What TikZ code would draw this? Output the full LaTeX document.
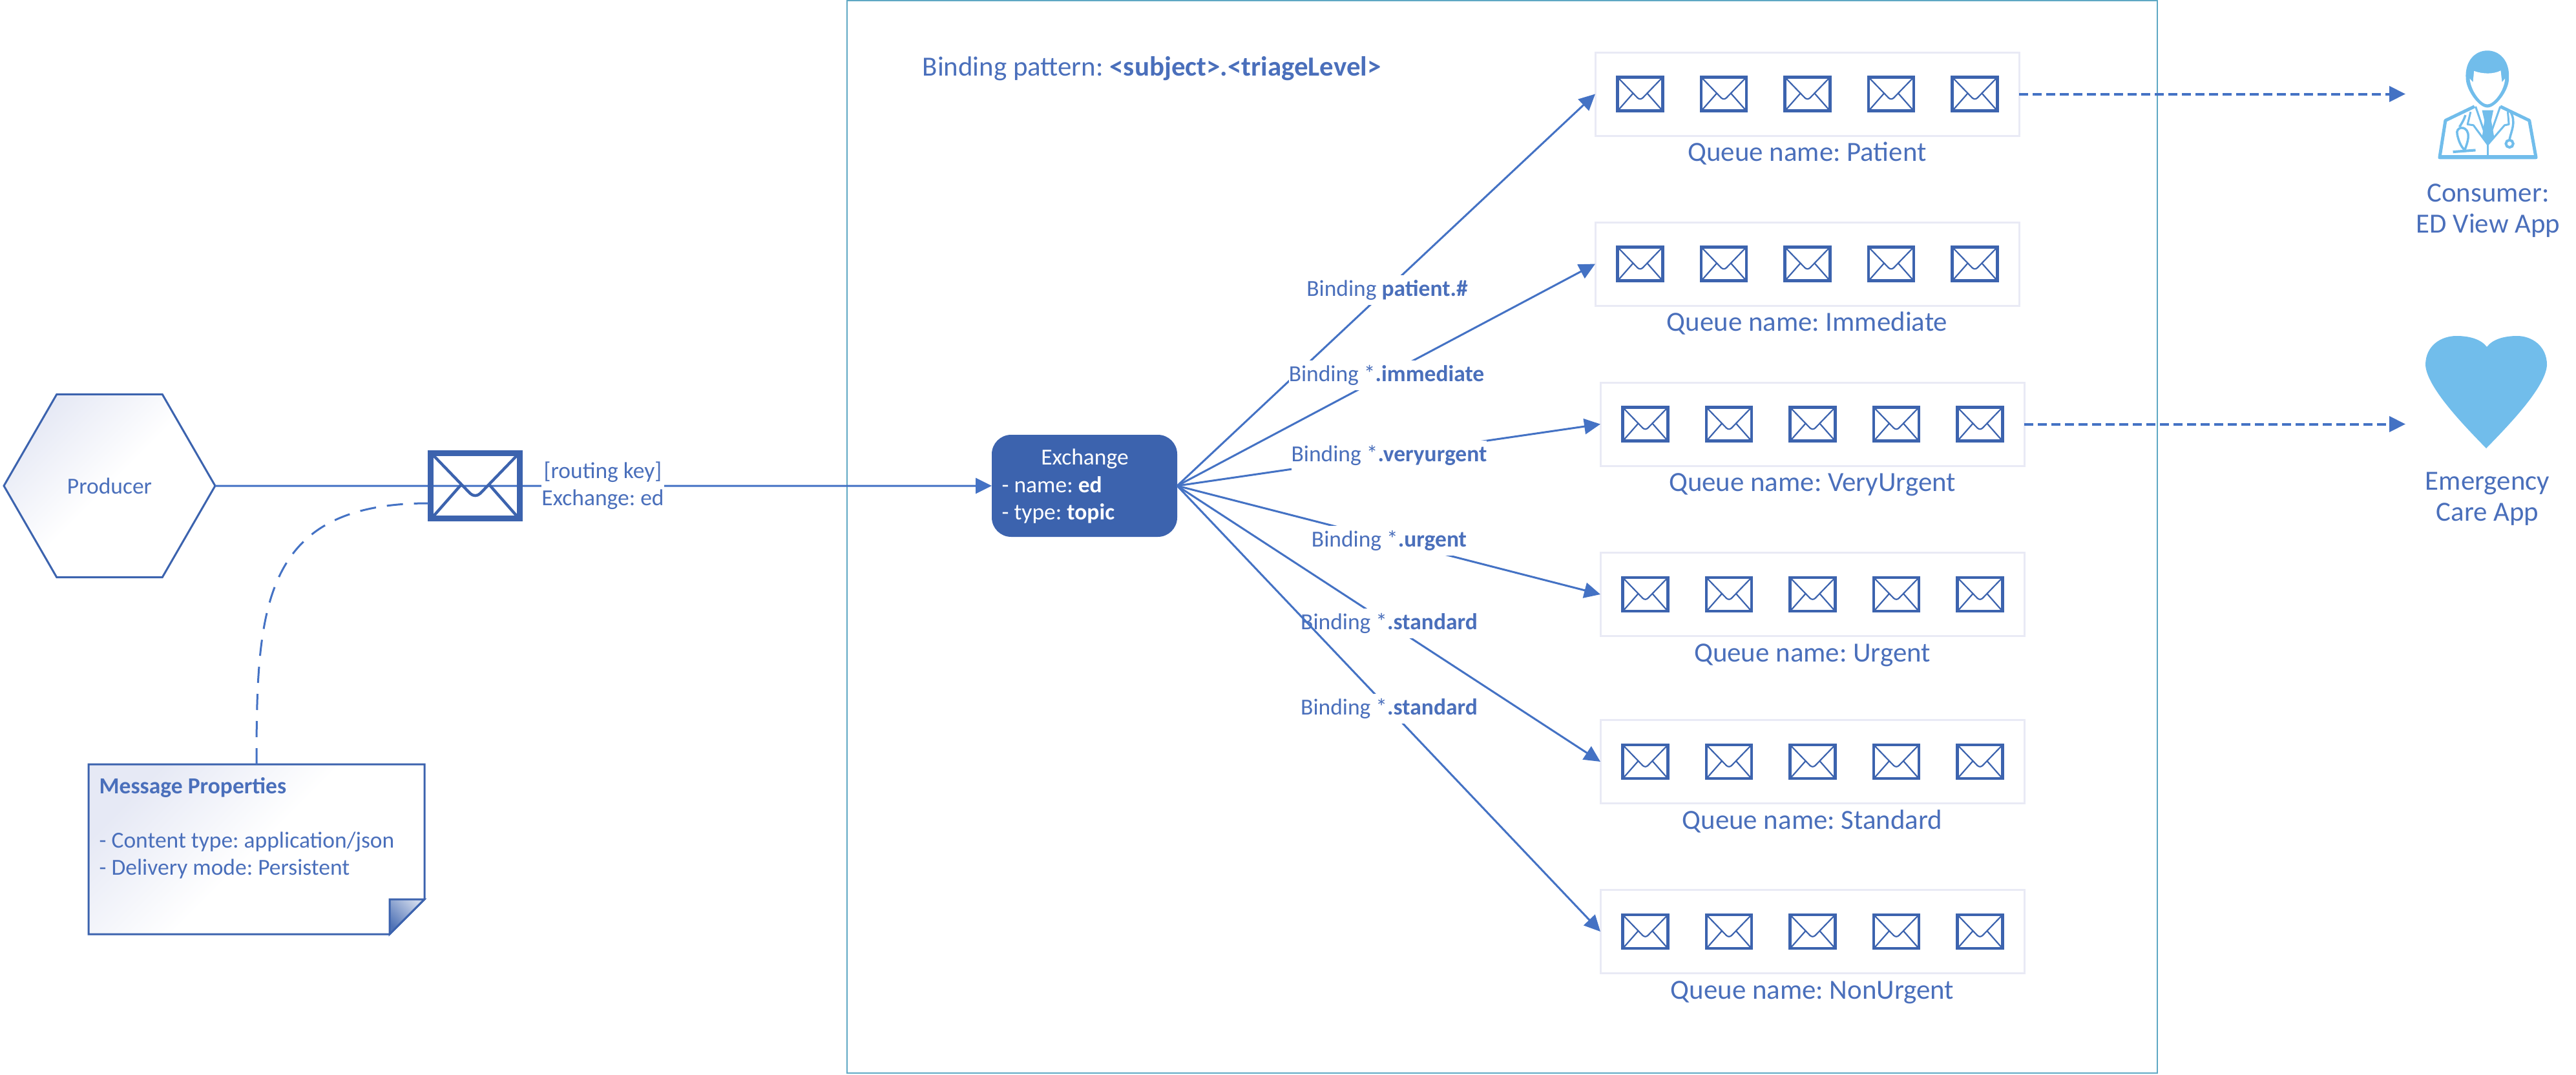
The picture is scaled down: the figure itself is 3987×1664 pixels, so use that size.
\documentclass[tikz,border=0pt]{standalone}
\usepackage{fontspec}
\setmainfont{Carlito}
\usepackage{xcolor}
\usetikzlibrary{arrows.meta, calc, positioning, shapes, backgrounds}
\definecolor{linkblue}{HTML}{4472C4}
\definecolor{textblue}{HTML}{4A6FBB}
\definecolor{mailblue}{HTML}{3C63AE}
\definecolor{iconblue}{HTML}{71BDEB}
\definecolor{framegreen}{HTML}{5FA8C4}
\definecolor{paleframe}{HTML}{E9EAF5}
\definecolor{palefill}{HTML}{E6E9F5}
\frenchspacing

\begin{document}
\begin{tikzpicture}[% one unit is one pixel of the reference
         x = 0.1mm, y = -0.1mm,
         > = {Triangle[length=2.5mm, width=2.4mm]},
link/.style = {draw=linkblue, line width=0.3mm},
send/.style = {link, ->, line width=0.4mm, dash pattern=on 1.4mm off 0.7mm},
label/.style = {font=\fontsize{10.1pt}{11.9pt}\selectfont, text=textblue, align=left, inner sep=0pt},
binding/.style = {label, fill=white, inner xsep=0pt, inner ysep=2pt, align=center},
big label/.style = {font=\fontsize{12.2pt}{13.8pt}\selectfont, text=textblue, align=center, inner sep=0pt},
queue box/.style = {draw=paleframe, line width=0.3mm, fill=white,
              minimum width=65.6mm, minimum height=12.9mm,
              inner sep=0pt, outer sep=0pt},
queue title/.style = {big label, text height=3mm, text depth=0.8mm},
pale shape/.style = {draw=mailblue, line width=0.3mm,
              top color=palefill, bottom color=white, middle color=white, shading angle=45},
pics/envelope/.style = {code={
      \draw[mailblue, line width=#1*0.45mm] (-35,-26) rectangle (35,26);
      \draw[mailblue, line width=#1*0.22mm, line join=round]
            (-33,-24) -- (-4,6) .. controls (-1.5,8.3) and (1.5,8.3) .. (4,6) -- (33,-24);
      \draw[mailblue, line width=#1*0.22mm] (-33,24) -- (-11,-1);
      \draw[mailblue, line width=#1*0.22mm] (33,24) -- (11,-1);
      }}
                        ]
	\useasboundingbox (0,0) rectangle (3987,1664);

	% broker frame
	\draw[framegreen, line width=0.2mm] (1311,1) rectangle (3339,1661);
	\node[big label, anchor=west] (pattern) at (1427,106)
		{Binding pattern: \textbf{<subject>.<triageLevel>}};

	% producer side
	\node[regular polygon, regular polygon sides=6, minimum size=32.7mm, outer sep=0pt,
	      label, pale shape] (producer) at (169.5,752) {Producer};
	\node[rectangle, rounded corners=3mm, fill=mailblue, minimum width=28.7mm, minimum height=15.8mm,
	      inner sep=0pt, outer sep=0pt] (exchange) at (1678.5,752) {};
	\node[label, text=white, anchor=center] (exchange name) at (1679,710) {Exchange};
	\node[label, text=white, anchor=west] (exchange props) at (1550,774) {- name: \textbf{ed}\\- type: \textbf{topic}};

	\draw[link,->] (producer.east) -- (exchange.west);
	\pic (mail) at (735.5,752) [scale=1.96] {envelope=2};
	\node[binding] (routing) at (933,752) {[routing key]\\Exchange: ed};

	% message properties note
	\coordinate (note nw) at (137,1183);
	\coordinate (note ne) at (657,1183);
	\coordinate (note se) at (657,1446);
	\coordinate (note sw) at (137,1446);
	\coordinate (fold) at (603,1392);
	\draw[pale shape] (note nw) -- (note ne) -- (fold -| note ne) -- (fold |- note se) -- (note sw) -- cycle;
	\draw[mailblue, line width=0.3mm, top color=mailblue!25, bottom color=mailblue!90, shading angle=-45]
		(fold) -- (fold -| note se) -- (fold |- note se) -- cycle;
	\node[label, anchor=west] (note text) at (153,1282)
		{\textbf{Message Properties}\\[11.9pt]- Content type: application/json\\- Delivery mode: Persistent};
	\coordinate (note top) at (397,1183);
	\coordinate (mail side) at (663,779);
	\draw[link, dash pattern=on 2.5mm off 1.7mm] (note top) .. controls (397,940) and (405,779) .. (mail side);

	% queues with their five messages
	\foreach \name/\title/\x/\y in {patient/Patient/2797/145.5,
	                                immediate/Immediate/2797/408.5,
	                                veryurgent/VeryUrgent/2805/656.5,
	                                urgent/Urgent/2805/920,
	                                standard/Standard/2805/1179,
	                                nonurgent/NonUrgent/2805/1442}{
		\node[queue box] (\name) at (\x,\y) {};
		\node[queue title, below=0.9mm of \name] (\name-title) {Queue name: \title};
		\foreach \i in {0,...,4}{
			\pic at ($(\name.center)+(-258.5,0)+(129.5*\i,0)$) {envelope=1};
		}
	}

	% bindings
	\draw[link,->] (exchange.east) -- (patient.west);
	\draw[link,->] (exchange.east) -- (immediate.west);
	\draw[link,->] (exchange.east) -- (veryurgent.west);
	\draw[link,->] (exchange.east) -- (urgent.west);
	\draw[link,->] (exchange.east) -- (standard.west);
	\node[binding] (bind patient) at (2147,449) {Binding \textbf{patient.\#}};
	\node[binding] (bind immediate) at (2146,581) {Binding *\textbf{.immediate}};
	\node[binding] (bind veryurgent) at (2150,705) {Binding *\textbf{.veryurgent}};
	\node[binding] (bind urgent) at (2150,837) {Binding *\textbf{.urgent}};
	\node[binding] (bind standard) at (2150,965) {Binding *\textbf{.standard}};
	\draw[link,->] (exchange.east) -- (nonurgent.west);
	\node[binding] (bind nonurgent) at (2150,1097) {Binding *\textbf{.standard}};

	% consumers
	\coordinate (doctor tip) at (3723,145.5);
	\coordinate (heart tip) at (3723,656.5);
	\draw[send] (patient.east) -- (doctor tip);
	\draw[send] (veryurgent.east) -- (heart tip);

	\begin{scope}[shift={(3700,50)}, x=0.0333mm, y=-0.0333mm]
		\fill[iconblue] (350,215) .. controls (345,130) and (395,85) .. (450,85)
			.. controls (505,85) and (555,130) .. (550,215)
			.. controls (550,270) and (490,350) .. (450,350)
			.. controls (410,350) and (352,270) .. (350,215) -- cycle;
		\fill[white] (368,215) -- (383,232) -- (388,180) .. controls (430,195) and (480,195) .. (512,178)
			-- (518,232) -- (532,215) .. controls (530,270) and (480,335) .. (450,335)
			.. controls (420,335) and (372,270) .. (368,215) -- cycle;
		\draw[iconblue, line width=0.5mm, line join=round]
			(390,345) -- (255,410) -- (228,582) -- (676,582) -- (645,410) -- (510,345);
		\fill[iconblue] (222,570) rectangle (683,590);
		\fill[iconblue] (425,362) -- (478,362) -- (468,410) -- (482,490) -- (452,522) -- (425,490) -- (436,410) -- cycle;
		\draw[iconblue, line width=0.3mm, line join=round]
			(395,345) -- (452,510) -- (510,345);
		\draw[iconblue, line width=0.3mm, line join=round]
			(372,370) -- (358,428) -- (385,432) -- (452,522) -- (530,432) -- (550,428) -- (545,370);
		\draw[iconblue, line width=0.3mm] (452,522) -- (452,575);
		\draw[iconblue, line width=0.35mm] (348,385) .. controls (340,410) and (330,425) .. (320,440);
		\draw[iconblue, line width=0.35mm] (310,475) .. controls (300,440) and (350,430) .. (360,470)
			.. controls (365,500) and (350,530) .. (345,548) .. controls (325,530) and (315,500) .. (310,475);
		\draw[iconblue, line width=0.4mm] (290,556) -- (395,548);
		\draw[iconblue, line width=0.35mm] (558,370) .. controls (585,420) and (560,460) .. (553,498);
		\draw[iconblue, line width=0.4mm] (553,518) circle [radius=17];
	\end{scope}
	\node[big label] (doctor name) at (3851,326) {Consumer:\\ED View App};

	\fill[iconblue] (3849,537) .. controls (3840,525) and (3822,520) .. (3802,520)
		.. controls (3778,520) and (3754,535) .. (3754,565)
		.. controls (3756,600) and (3815,660) .. (3848,694)
		.. controls (3881,660) and (3940,600) .. (3942,565)
		.. controls (3942,535) and (3918,520) .. (3896,520)
		.. controls (3876,520) and (3858,525) .. (3849,537) -- cycle;
	\node[big label] (heart name) at (3850,772) {Emergency\\Care App};
\end{tikzpicture}
\end{document}
